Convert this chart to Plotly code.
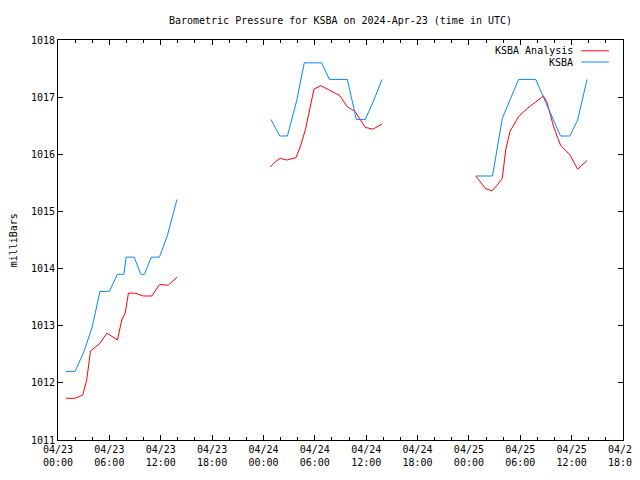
import plotly.graph_objects as go
import pandas as pd

BASE = pd.Timestamp("2024-04-23 00:00")

# KSBA observations (hours since 2024-04-23 00:00 UTC); None = data gap
ksba_hours = [0.94, 1.99, 3.04, 4.0, 4.9, 6.0, 6.94, 7.7, 7.95, 8.9, 9.67, 10.1, 10.9, 11.85, 12.8, 13.9,
              19.0,
              24.88, 25.9, 26.8, 27.9, 28.77, 30.8, 31.7, 33.8, 34.85, 35.9, 36.9, 37.86,
              43.0,
              48.8, 50.76, 51.9, 53.8, 55.8, 56.8, 58.7, 59.8, 60.7, 61.8]
ksba_mb = [1012.2, 1012.2, 1012.55, 1012.98, 1013.6, 1013.6, 1013.9, 1013.9, 1014.2, 1014.2, 1013.9, 1013.9,
           1014.2, 1014.2, 1014.59, 1015.21,
           None,
           1016.61, 1016.32, 1016.32, 1016.95, 1017.6, 1017.6, 1017.31, 1017.31, 1016.61, 1016.61, 1016.95, 1017.31,
           None,
           1015.62, 1015.62, 1016.63, 1017.31, 1017.31, 1016.97, 1016.32, 1016.32, 1016.6, 1017.31]

# KSBA Analysis
anal_hours = [0.94, 1.99, 2.9, 3.35, 3.8, 4.33, 4.9, 5.7, 6.2, 6.94, 7.45, 7.84, 8.23, 9.0, 9.98, 10.96, 11.85,
              12.9, 13.9,
              19.0,
              24.8, 25.4, 25.96, 26.7, 27.8, 28.3, 28.9, 29.5, 29.9, 30.7, 31.8, 32.9, 33.8, 34.7, 35.9, 36.8, 37.86,
              43.0,
              48.8, 49.94, 50.7, 51.3, 51.9, 52.3, 52.8, 53.8, 54.8, 55.8, 56.7, 57.1, 57.9, 58.7, 59.8, 60.7, 61.8]
anal_mb = [1011.73, 1011.73, 1011.79, 1012.05, 1012.56, 1012.63, 1012.69, 1012.87, 1012.82, 1012.75, 1013.1,
           1013.22, 1013.57, 1013.57, 1013.52, 1013.52, 1013.72, 1013.71, 1013.85,
           None,
           1015.78, 1015.87, 1015.93, 1015.90, 1015.94, 1016.13, 1016.43, 1016.89, 1017.14, 1017.20, 1017.11,
           1017.03, 1016.83, 1016.75, 1016.47, 1016.44, 1016.53,
           None,
           1015.62, 1015.40, 1015.36, 1015.46, 1015.58, 1016.08, 1016.40, 1016.66, 1016.80, 1016.92, 1017.02,
           1016.92, 1016.48, 1016.16, 1015.99, 1015.74, 1015.89]

tick_hours = [0, 6, 12, 18, 24, 30, 36, 42, 48, 54, 60, 66]
tick_labels = ["04/23<br>00:00", "04/23<br>06:00", "04/23<br>12:00", "04/23<br>18:00",
               "04/24<br>00:00", "04/24<br>06:00", "04/24<br>12:00", "04/24<br>18:00",
               "04/25<br>00:00", "04/25<br>06:00", "04/25<br>12:00", "04/25<br>18:00"]
y_ticks = [1011, 1012, 1013, 1014, 1015, 1016, 1017, 1018]


def to_time(hours):
    return [BASE + pd.Timedelta(hours=h) for h in hours]


RED = "#ff0000"
BLUE = "#0a88f8"
FONT = "DejaVu Sans Mono"

fig = go.Figure()
fig.add_trace(go.Scatter(x=to_time(anal_hours), y=anal_mb, mode="lines", name="KSBA Analysis",
                         line=dict(color=RED, width=1), connectgaps=False))
fig.add_trace(go.Scatter(x=to_time(ksba_hours), y=ksba_mb, mode="lines", name="KSBA",
                         line=dict(color=BLUE, width=1), connectgaps=False))

# page body has an 8px margin, so the figure is shifted by 8px
fig.update_layout(
    width=632, height=464, autosize=False,
    margin=dict(l=50, r=17, t=32, b=32),
    paper_bgcolor="white", plot_bgcolor="white",
    showlegend=False,
    font=dict(family=FONT, size=10, color="black"),
    title=dict(text="Barometric Pressure for KSBA on 2024-Apr-23 (time in UTC)",
               x=0.5, xref="paper", xanchor="center", y=1 - 12 / 464, yref="container",
               yanchor="middle", automargin=False,
               font=dict(family=FONT, size=10, color="black")),
)

fig.update_xaxes(
    range=[BASE, BASE + pd.Timedelta(hours=66)],
    tickvals=to_time(tick_hours), ticktext=tick_labels,
    ticks="inside", ticklen=5, tickcolor="black", tickwidth=1,
    showline=True, linecolor="black", linewidth=1, mirror="ticks",
    showgrid=False, zeroline=False, automargin=False, ticklabeloverflow="allow",
    minor=dict(dtick=2 * 3600 * 1000, ticks="inside", ticklen=3, tickcolor="black", showgrid=False),
    tickfont=dict(family=FONT, size=10, color="black"),
)
fig.update_yaxes(
    range=[1011, 1018], tickvals=y_ticks, ticktext=[str(v) for v in y_ticks],
    ticks="inside", ticklen=5, tickcolor="black", tickwidth=1,
    showline=True, linecolor="black", linewidth=1, mirror="ticks",
    showgrid=False, zeroline=False, automargin=False,
    tickfont=dict(family=FONT, size=10, color="black"),
)

fig.add_annotation(text="milliBars", textangle=-90, xref="paper", yref="paper",
                   x=-0.079, y=0.5, xanchor="center", yanchor="middle", showarrow=False,
                   font=dict(family=FONT, size=10, color="black"))

# custom legend (text right-aligned, sample line to the right)
legend_items = [("KSBA Analysis", RED, 0.973), ("KSBA", BLUE, 0.945)]
for name, color, yy in legend_items:
    fig.add_annotation(text=name, xref="paper", yref="paper", x=0.915, y=yy,
                       xanchor="right", yanchor="middle", showarrow=False,
                       font=dict(family=FONT, size=10, color="black"))
    fig.add_shape(type="line", xref="paper", yref="paper", x0=0.926, x1=0.975, y0=yy, y1=yy,
                  line=dict(color=color, width=1))

fig.write_html("out.html")
